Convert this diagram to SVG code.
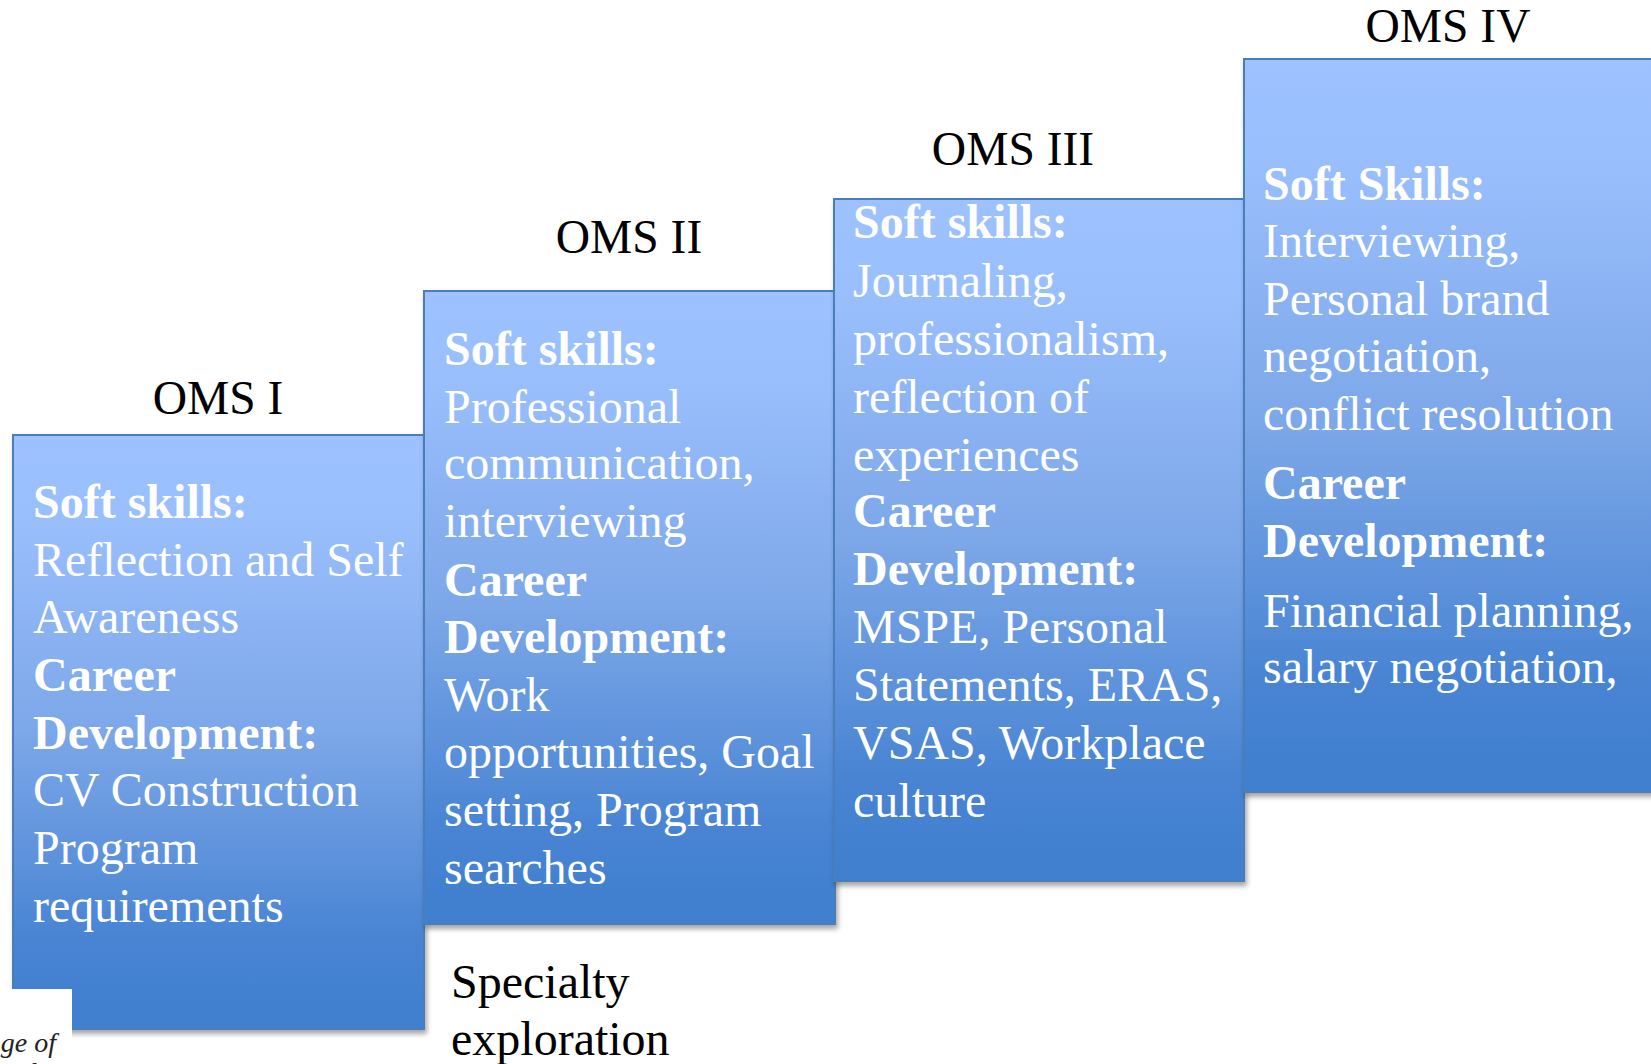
<svg xmlns="http://www.w3.org/2000/svg" width="1651" height="1064" viewBox="0 0 1651 1064">
  <defs>
    <linearGradient id="stepFill" x1="0" y1="0" x2="0" y2="1">
      <stop offset="0" stop-color="#9DC2FF"/>
      <stop offset="0.15" stop-color="#99BEFC"/>
      <stop offset="0.5" stop-color="#7CA7E8"/>
      <stop offset="0.85" stop-color="#4884D3"/>
      <stop offset="1" stop-color="#3F7FCD"/>
    </linearGradient>
    <filter id="shadow" x="-5%" y="-5%" width="115%" height="115%">
      <feDropShadow dx="2" dy="4" stdDeviation="2.5" flood-color="#000" flood-opacity="0.35"/>
    </filter>
  </defs>
  <style>
    .step { fill: url(#stepFill); stroke: #4A7EBB; stroke-width: 2; filter: url(#shadow); }
    .t { font-family: "Liberation Serif", "Times New Roman", serif; font-size: 48px; }
    .w { fill: #FFFFFF; }
    .b { font-weight: bold; }
    .k { fill: #000000; }
    .title { text-anchor: middle; font-size: 47.5px; }
    .logo { font-family: "Liberation Serif", "Times New Roman", serif; font-size: 28px; font-style: italic; fill: #222; }
  </style>

  <rect width="1651" height="1064" fill="#FFFFFF"/>

  <!-- Year 1 step -->
  <g id="oms1">
    <text class="t k title" x="218" y="414">OMS I</text>
    <rect class="step" x="13" y="435" width="411" height="594"/>
    <g class="t w">
      <text class="b" x="33" y="518">Soft skills:</text>
      <text x="33" y="576">Reflection and Self</text>
      <text x="33" y="633">Awareness</text>
      <text class="b" x="33" y="691">Career</text>
      <text class="b" x="33" y="749">Development:</text>
      <text x="33" y="806">CV Construction</text>
      <text x="33" y="864">Program</text>
      <text x="33" y="922">requirements</text>
    </g>
  </g>

  <!-- Year 2 step -->
  <g id="oms2">
    <text class="t k title" x="629" y="253">OMS II</text>
    <rect class="step" x="424" y="291" width="411" height="633"/>
    <g class="t w">
      <text class="b" x="444" y="365">Soft skills:</text>
      <text x="444" y="423">Professional</text>
      <text x="444" y="479">communication,</text>
      <text x="444" y="537">interviewing</text>
      <text class="b" x="444" y="596">Career</text>
      <text class="b" x="444" y="653">Development:</text>
      <text x="444" y="711">Work</text>
      <text x="444" y="768">opportunities, Goal</text>
      <text x="444" y="826">setting, Program</text>
      <text x="444" y="884">searches</text>
    </g>
    <g class="t k">
      <text x="451" y="998">Specialty</text>
      <text x="451" y="1055">exploration</text>
    </g>
  </g>

  <!-- Year 3 step -->
  <g id="oms3">
    <text class="t k title" x="1013" y="165">OMS III</text>
    <rect class="step" x="834" y="199" width="410" height="682"/>
    <g class="t w">
      <text class="b" x="853" y="238">Soft skills:</text>
      <text x="853" y="297">Journaling,</text>
      <text x="853" y="355">professionalism,</text>
      <text x="853" y="413">reflection of</text>
      <text x="853" y="471">experiences</text>
      <text class="b" x="853" y="527">Career</text>
      <text class="b" x="853" y="585">Development:</text>
      <text x="853" y="643">MSPE, Personal</text>
      <text x="853" y="701">Statements, ERAS,</text>
      <text x="853" y="759">VSAS, Workplace</text>
      <text x="853" y="817">culture</text>
    </g>
  </g>

  <!-- Year 4 step -->
  <g id="oms4">
    <text class="t k title" x="1448" y="42">OMS IV</text>
    <rect class="step" x="1244" y="59" width="420" height="733"/>
    <g class="t w">
      <text class="b" x="1263" y="200">Soft Skills:</text>
      <text x="1263" y="257">Interviewing,</text>
      <text x="1263" y="315">Personal brand</text>
      <text x="1263" y="372">negotiation,</text>
      <text x="1263" y="430">conflict resolution</text>
      <text class="b" x="1263" y="499">Career</text>
      <text class="b" x="1263" y="557">Development:</text>
      <text x="1263" y="627">Financial planning,</text>
      <text x="1263" y="683">salary negotiation,</text>
    </g>
  </g>

  <!-- clipped logo fragment in the lower-left corner -->
  <g id="logo">
    <rect x="0" y="989" width="72" height="75" fill="#FFFFFF"/>
    <text class="logo" x="56" y="1052" text-anchor="end">ge of</text>
    <text class="logo" x="64" y="1082" text-anchor="end">pathic</text>
  </g>
</svg>
